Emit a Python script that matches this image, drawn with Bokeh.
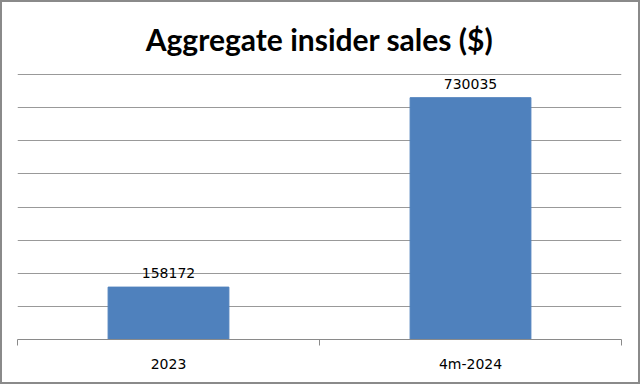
from bokeh.plotting import figure
from bokeh.models import Range1d, FixedTicker, LinearAxis, Grid, ColumnDataSource
from bokeh.core.properties import value
from bokeh.embed import file_html
from bokeh.resources import INLINE

categories = ["2023", "4m-2024"]
sales = [158172, 730035]
y_ticks = [0, 100000, 200000, 300000, 400000, 500000, 600000, 700000, 800000]

xs = [i + 0.5 for i in range(len(categories))]
src = ColumnDataSource(dict(x=xs, top=sales, label=[str(v) for v in sales]))

p = figure(width=636, height=380, output_backend="svg", toolbar_location=None,
           x_range=Range1d(0, len(categories)),
           y_range=Range1d(0, y_ticks[-1] * 265 / 264),
           x_axis_location=None, y_axis_location=None,
           min_border_left=15, min_border_right=21, min_border_top=68, min_border_bottom=47,
           title="Aggregate insider sales ($)")
p.center = []
p.outline_line_color = None
p.background_fill_color = "white"
p.border_fill_color = "white"
p.styles = {"border": "2px solid #8a8a8a", "box-sizing": "content-box"}

p.title.align = "center"
p.title.text_font = "Lato"
p.title.text_font_style = "bold"
p.title.text_font_size = "30px"
p.title.text_color = "black"
p.title.standoff = 33

grid = Grid(dimension=1, ticker=FixedTicker(ticks=y_ticks),
            grid_line_color="#999999", grid_line_width=1)
p.add_layout(grid)

xaxis = LinearAxis(ticker=FixedTicker(ticks=xs, minor_ticks=list(range(len(categories) + 1))),
                   major_label_overrides={x: c for x, c in zip(xs, categories)})
xaxis.axis_line_color = "#8a8a8a"
xaxis.major_tick_line_color = None
xaxis.major_tick_out = 0
xaxis.major_tick_in = 0
xaxis.minor_tick_line_color = "#8a8a8a"
xaxis.minor_tick_out = 6
xaxis.minor_tick_in = 0
xaxis.major_label_standoff = 10
xaxis.major_label_text_font = "DejaVu Sans"
xaxis.major_label_text_font_size = "14px"
xaxis.major_label_text_color = "black"
p.add_layout(xaxis, "below")

p.vbar(x="x", top="top", bottom=0, width=0.4, source=src,
       fill_color="#4f81bd", line_color="#4f81bd")

p.text(x="x", y="top", text="label", source=src, y_offset=-14,
       text_align="center", text_baseline="alphabetic",
       text_font=value("DejaVu Sans"), text_font_size="14px", text_color="black")

open("out.html", "w").write(file_html(p, INLINE))
